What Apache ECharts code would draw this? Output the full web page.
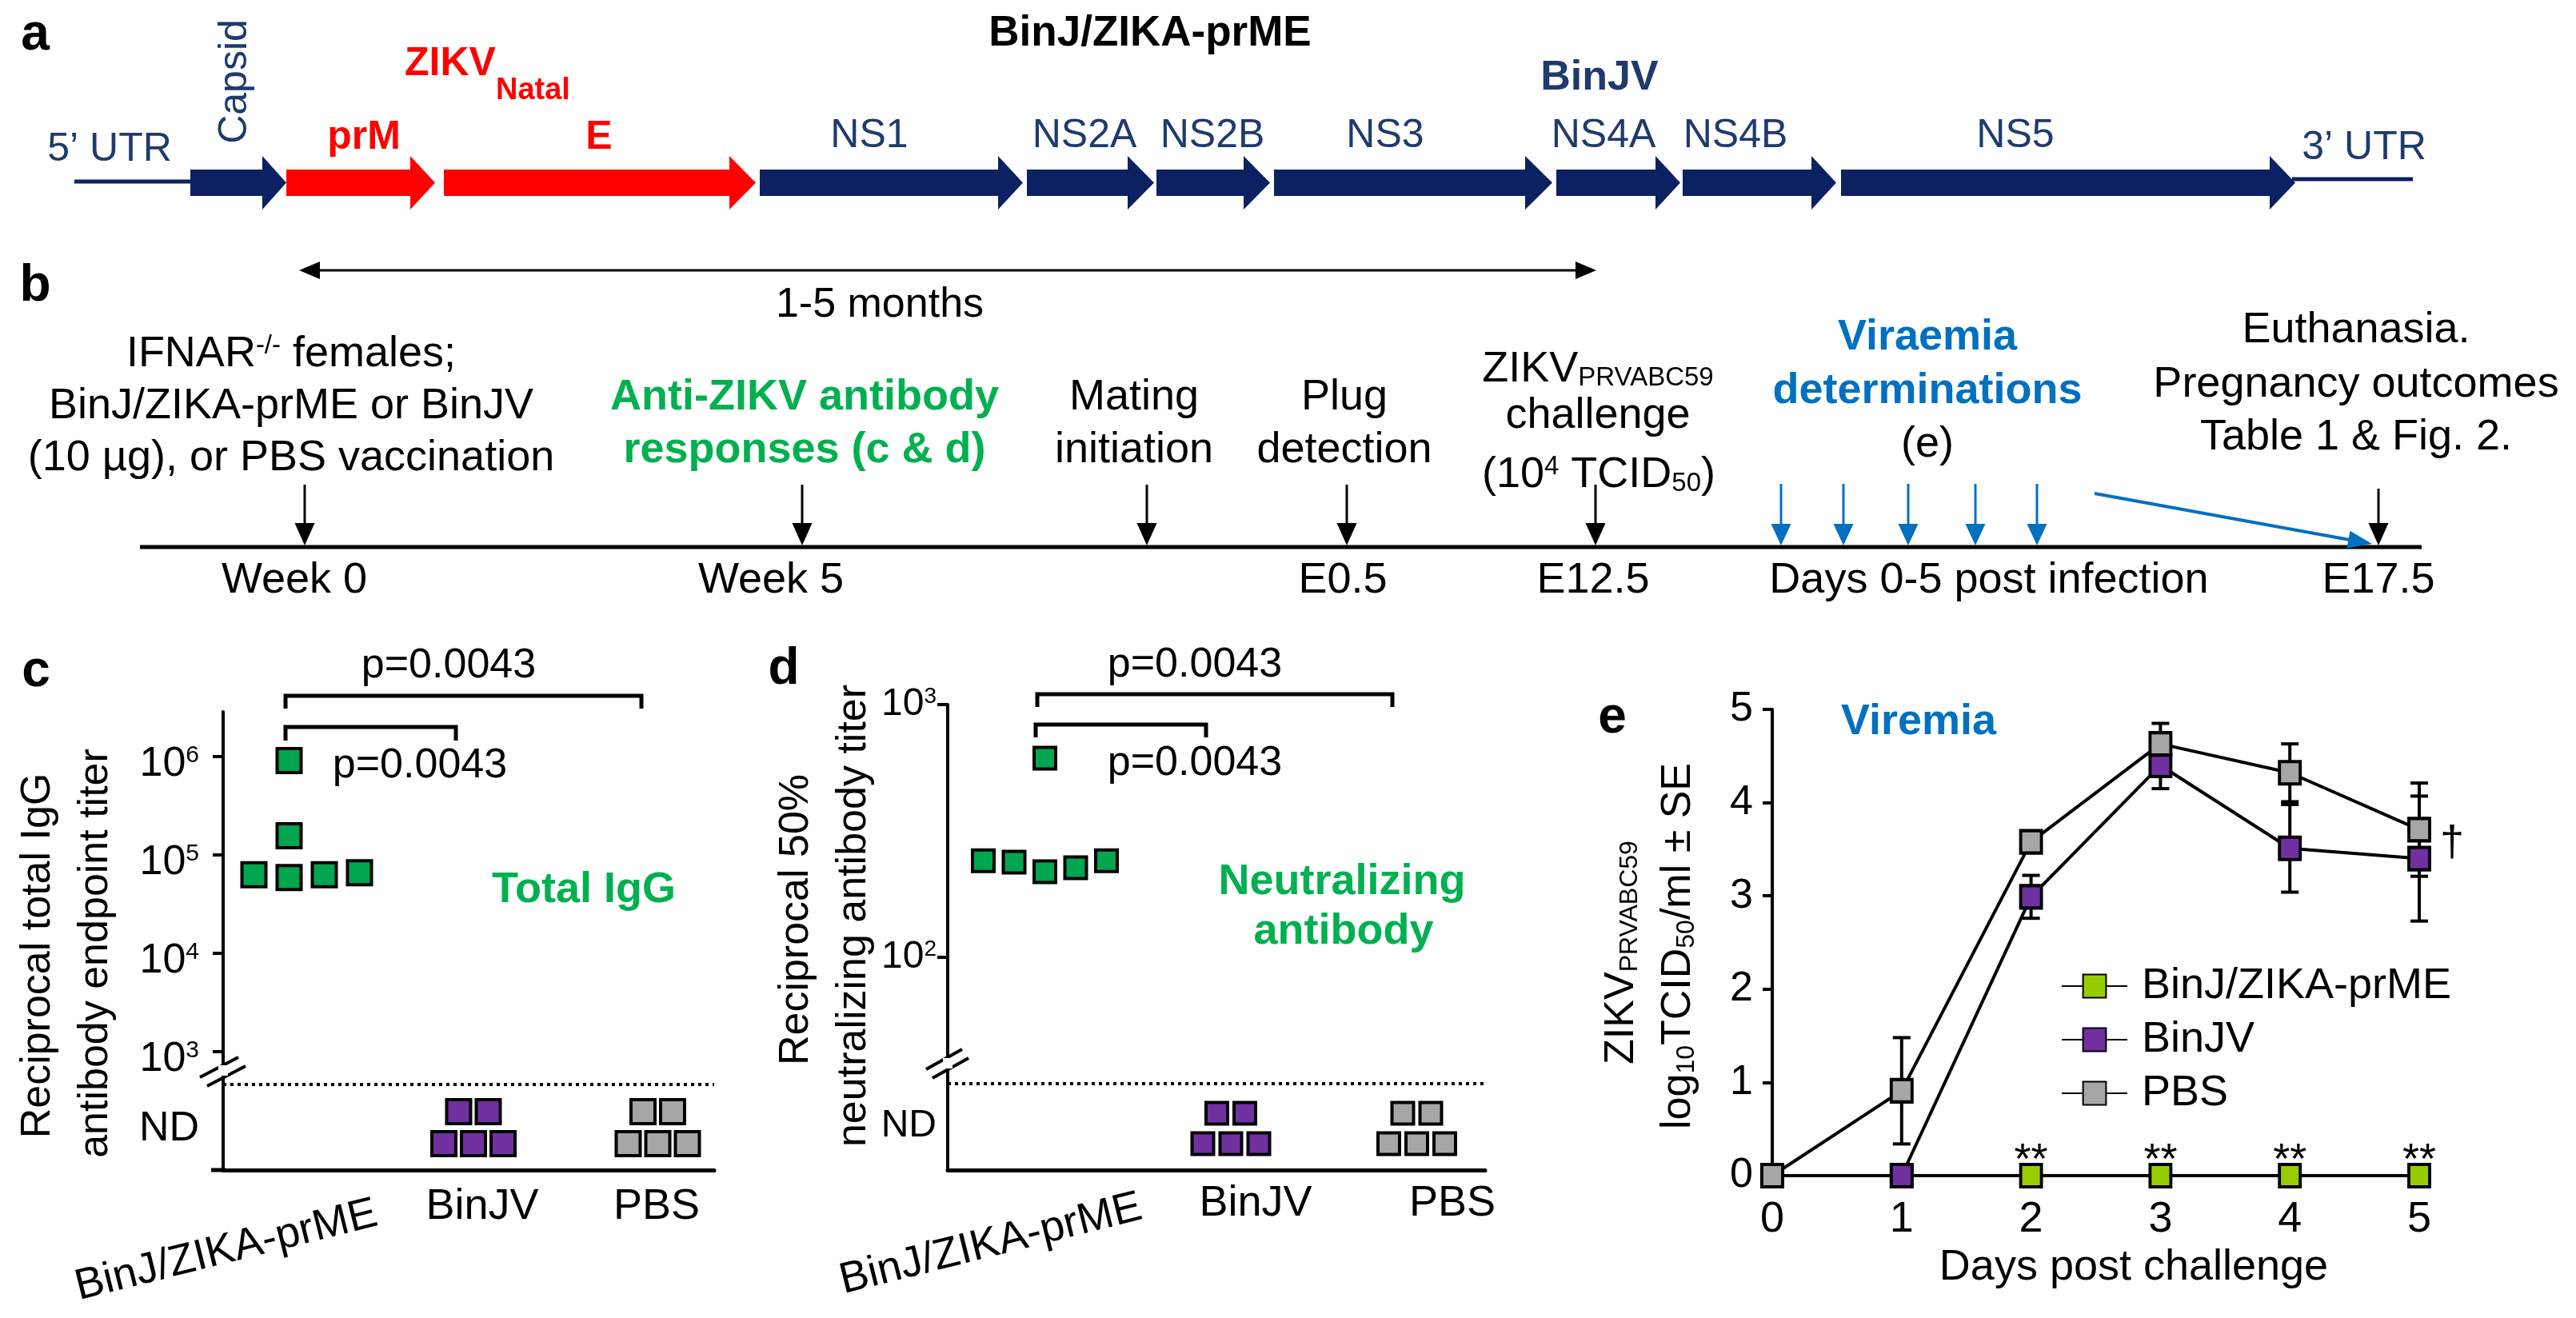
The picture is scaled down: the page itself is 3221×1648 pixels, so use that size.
<!DOCTYPE html>
<html>
<head>
<meta charset="utf-8">
<script src="https://cdn.jsdelivr.net/npm/echarts@6.0.0/dist/echarts.min.js"></script>
<style>
html,body{margin:0;padding:0;background:#fff;overflow:hidden}
#chart{width:3221px;height:1648px}
</style>
</head>
<body>
<div id="chart"></div>
<script>
// ================= DATA =================
const groups = ['BinJ/ZIKA-prME', 'BinJV', 'PBS'];
// panel c: reciprocal total IgG endpoint titre
const iggPrME  = [910000, 157000, 63000, 66000, 63000, 59000];
const iggBinJV = ['ND', 'ND', 'ND', 'ND', 'ND'];
const iggPBS   = ['ND', 'ND', 'ND', 'ND', 'ND'];
const iggTickValues = [1e3, 1e4, 1e5, 1e6];
// panel d: reciprocal 50% neutralising antibody titre
const neutPrME  = [614, 241, 218, 241, 226, 238];
const neutBinJV = ['ND', 'ND', 'ND', 'ND', 'ND'];
const neutPBS   = ['ND', 'ND', 'ND', 'ND', 'ND'];
const neutTickValues = [1e2, 1e3];
const pValueLabels = ['p=0.0043', 'p=0.0043'];
// panel e: viraemia, log10 TCID50/ml +/- SE
const days = [0, 1, 2, 3, 4, 5];
const viremiaPrME  = [0, 0, 0, 0, 0, 0];
const viremiaBinJV = [0, 0, 2.99, 4.40, 3.51, 3.40];
const seBinJV      = [0, 0, 0.23, 0.25, 0.47, 0.67];
const viremiaPBS   = [0, 0.91, 3.58, 4.63, 4.32, 3.71];
const sePBS        = [0, 0.57, 0, 0.22, 0.31, 0.50];
const signifPrME   = ['', '', '**', '**', '**', '**'];
const notePBS      = ['', '', '', '', '', '\u2020'];
// panel a: genome segments
const genomeLabels = ['Capsid', 'prM', 'E', 'NS1', 'NS2A', 'NS2B', 'NS3', 'NS4A', 'NS4B', 'NS5'];

// ================= STYLE / LAYOUT =================
const FONT = '"Liberation Sans", Arial, Helvetica, sans-serif';
const NAVY = '#0B2162', NAVYTXT = '#1F3A6E', RED = '#FF0000', GREENTXT = '#00B050', BLUE = '#0070C0';
const C_PRME = '#00A550', C_BINJV = '#7030A0', C_PBS = '#A6A6A6', C_PRME_E = '#99CC00';

const G = [];
function T(x, y, text, size, o) {
  o = o || {};
  const st = {text: text, x: 0, y: 0, fontSize: size, fontFamily: FONT,
    fontWeight: o.bold ? 'bold' : 'normal', fill: o.color || '#000',
    align: o.align || 'center', verticalAlign: o.va || 'middle'};
  if (o.rich) st.rich = o.rich;
  G.push({type: 'text', x: x, y: y, rotation: o.rot || 0, style: st, z: 100, silent: true});
}
function L(x1, y1, x2, y2, w, c, dash) {
  G.push({type: 'line', shape: {x1, y1, x2, y2}, style: {stroke: c || '#000', lineWidth: w || 3, lineDash: dash || null}, z: 90, silent: true});
}
function P(points, fill) { G.push({type: 'polygon', shape: {points}, style: {fill}, z: 91, silent: true}); }
function PL(points, w, c) { G.push({type: 'polyline', shape: {points}, style: {stroke: c || '#000', lineWidth: w, fill: null}, z: 90, silent: true}); }
function RC(x, y, w, h, fill) { G.push({type: 'rect', shape: {x, y, width: w, height: h}, style: {fill}, z: 95, silent: true}); }
function arrow(x1, y1, x2, y2, w, c, len, wid) {
  const n = Math.hypot(x2 - x1, y2 - y1), ux = (x2 - x1) / n, uy = (y2 - y1) / n;
  L(x1, y1, x2 - ux * (len - 3), y2 - uy * (len - 3), w, c);
  const bx = x2 - ux * len, by = y2 - uy * len;
  P([[x2, y2], [bx - uy * wid / 2, by + ux * wid / 2], [bx + uy * wid / 2, by - ux * wid / 2]], c);
}
function richSet(size, color, bold) {
  const base = {fontSize: size, fontFamily: FONT, fill: color, fontWeight: bold ? 'bold' : 'normal'};
  const ss = Math.round(size * 0.62);
  return {
    n: Object.assign({}, base, {lineHeight: size, verticalAlign: 'top'}),
    sup: Object.assign({}, base, {fontSize: ss, lineHeight: ss, verticalAlign: 'top'}),
    sub: Object.assign({}, base, {fontSize: ss, lineHeight: ss, verticalAlign: 'bottom', padding: [Math.round(size * 0.6), 0, 0, 0]})
  };
}
const RICH54 = richSet(54, '#000', false);
const RICH52 = richSet(52, '#000', false);
const ROT90 = Math.PI / 2;

// ---------- panel a ----------
T(44, 44, 'a', 64, {bold: true});
T(1438, 42, 'BinJ/ZIKA-prME', 53, {bold: true});
const segLayout = [ // x start, head base, tip, colour, label x, label y, style
  [238, 328, 358, NAVY, 294, 102, 'rot'],
  [358, 513, 544, RED, 455, 172, 'red'],
  [555, 912, 945, RED, 749, 172, 'red'],
  [950, 1248, 1279, NAVY, 1087, 170, ''],
  [1284, 1410, 1443, NAVY, 1356, 170, ''],
  [1446, 1555, 1588, NAVY, 1516, 170, ''],
  [1593, 1907, 1941, NAVY, 1732, 170, ''],
  [1946, 2070, 2101, NAVY, 2005, 170, ''],
  [2104, 2265, 2296, NAVY, 2170, 170, ''],
  [2302, 2838, 2870, NAVY, 2520, 170, '']
];
const AY = 228.5, BH = 16.5, HH = 33.5;
L(93, 227, 241, 227, 5, NAVY);
L(2866, 224, 3017, 224, 5, NAVY);
segLayout.forEach((s, i) => {
  P([[s[0], AY - BH], [s[1], AY - BH], [s[1], AY - HH], [s[2], AY], [s[1], AY + HH], [s[1], AY + BH], [s[0], AY + BH]], s[3]);
  if (s[6] === 'rot') T(s[4], s[5], genomeLabels[i], 50, {color: NAVYTXT, rot: ROT90});
  else if (s[6] === 'red') T(s[4], s[5], genomeLabels[i], 50, {color: RED, bold: true});
  else T(s[4], s[5], genomeLabels[i], 50, {color: NAVYTXT});
});
T(137, 187, '5\u2019 UTR', 50, {color: NAVYTXT});
T(2956, 185, '3\u2019 UTR', 50, {color: NAVYTXT});
T(506, 80, 'ZIKV', 50, {bold: true, color: RED, align: 'left'});
T(620, 114, 'Natal', 38, {bold: true, color: RED, align: 'left'});
T(2000, 98, 'BinJV', 52, {bold: true, color: NAVYTXT});

// ---------- panel b ----------
T(44, 358, 'b', 64, {bold: true});
L(396, 338, 1974, 338, 3);
P([[374, 338], [400, 327], [400, 349]], '#000');
P([[1996, 338], [1970, 327], [1970, 349]], '#000');
T(1100, 382, '1-5 months', 52);
T(364, 443, '{n|IFNAR}{sup|-/-}{n| females;}', 54, {rich: RICH54});
T(364, 508, 'BinJ/ZIKA-prME or BinJV', 54);
T(364, 573, '(10 \u00b5g), or PBS vaccination', 54);
T(1006, 497, 'Anti-ZIKV antibody', 54, {bold: true, color: GREENTXT});
T(1006, 563, 'responses (c & d)', 54, {bold: true, color: GREENTXT});
T(1418, 497, 'Mating', 54);
T(1418, 563, 'initiation', 54);
T(1681, 497, 'Plug', 54);
T(1681, 563, 'detection', 54);
T(1998, 462, '{n|ZIKV}{sub|PRVABC59}', 54, {rich: RICH54});
T(1998, 520, 'challenge', 54);
T(1999, 594, '{n|(10}{sup|4}{n| TCID}{sub|50}{n|)}', 54, {rich: RICH54});
T(2410, 422, 'Viraemia', 54, {bold: true, color: BLUE});
T(2410, 489, 'determinations', 54, {bold: true, color: BLUE});
T(2410, 556, '(e)', 54);
T(2946, 413, 'Euthanasia.', 54);
T(2946, 481, 'Pregnancy outcomes', 54);
T(2946, 547, 'Table 1 & Fig. 2.', 54);
L(175, 684, 3028, 684, 5);
[381, 1003, 1434, 1684, 1995].forEach(x => arrow(x, 606, x, 682, 3, '#000', 28, 25));
arrow(2974, 611, 2974, 682, 3, '#000', 28, 25);
[2227, 2305, 2386, 2470, 2547].forEach(x => arrow(x, 605, x, 682, 3, BLUE, 27, 25));
arrow(2619, 617, 2966, 680, 4, BLUE, 30, 22);
T(368, 726, 'Week 0', 54);
T(964, 726, 'Week 5', 54);
T(1679, 726, 'E0.5', 54);
T(1992, 726, 'E12.5', 54);
T(2487, 726, 'Days 0-5 post infection', 54);
T(2974, 726, 'E17.5', 54);

// ---------- panels c / d layout ----------
function prep(p) {
  p.pxPerY = (p.y2 - p.y1) / (p.v1 - p.v2);
  p.yVal = py => p.v1 + (p.y1 - py) / p.pxPerY;
  p.xVal = px => (px - p.g0) / p.spacing;
  p.ymin = p.yVal(p.bottom); p.ymax = p.yVal(p.top);
  p.xmin = p.xVal(p.left); p.xmax = p.xVal(p.right);
  p.ndVal = p.yVal(p.ndY); p.ndLabel = p.yVal(p.ndLabelY); p.limVal = p.yVal(p.limY);
  p.symPx = p.sym + 4;
  return p;
}
const PC = prep({left: 279, right: 893, top: 890, bottom: 1463, v1: 6, y1: 946, v2: 3, y2: 1315,
  g0: 361.5, spacing: 230.5, ndY: 1410, ndLabelY: 1402, limY: 1356, sym: 30, pitch: 44, ndPitch: 37, rowPitch: 40});
const PD = prep({left: 1185, right: 1857, top: 881, bottom: 1463, v1: 3, y1: 881, v2: 2, y2: 1197,
  g0: 1306.5, spacing: 232.5, ndY: 1411, ndLabelY: 1408, limY: 1356, sym: 27, pitch: 38.5, ndPitch: 35, rowPitch: 38});

function swarmPoints(values, gi, p) {
  const pts = [];
  const det = values.filter(v => v !== 'ND').map(v => Math.log10(v)).sort((a, b) => a - b);
  const order = [0, 1, -1, 2, -2, 3, -3, 4, -4];
  const placed = [];
  det.forEach(ly => {
    for (const k of order) {
      if (!placed.some(q => q.k === k && Math.abs(q.ly - ly) * p.pxPerY < p.symPx)) { placed.push({k, ly}); break; }
    }
  });
  placed.forEach(q => pts.push([gi + q.k * p.pitch / p.spacing, q.ly]));
  const nND = values.length - det.length;
  if (nND) {
    const rows = []; let left = nND, r = 0;
    while (left > 0) { const n = Math.min(r % 2 === 0 ? 3 : 2, left); rows.push(n); left -= n; r++; }
    rows.forEach((n, ri) => {
      const dy = (ri - (rows.length - 1) / 2) * p.rowPitch / p.pxPerY;
      for (let i = 0; i < n; i++) pts.push([gi + (i - (n - 1) / 2) * p.ndPitch / p.spacing, p.ndVal + dy]);
    });
  }
  return pts;
}
function scatterSeries(name, values, gi, p, color, axisIdx, withLimit) {
  const s = {name: name, type: 'scatter', xAxisIndex: axisIdx, yAxisIndex: axisIdx,
    data: swarmPoints(values, gi, p), symbol: 'rect', symbolSize: p.sym,
    itemStyle: {color: color, borderColor: '#000', borderWidth: 4, opacity: 1}, z: 5, silent: true};
  if (withLimit) s.markLine = {silent: true, symbol: ['none', 'none'], label: {show: false},
    lineStyle: {color: '#000', type: [4, 5], width: 4}, data: [{yAxis: p.limVal}], animation: false};
  return s;
}
function logAxis(p, ticks, gridIndex, margin, pad, fs) {
  const tv = ticks.map(v => Math.log10(v));
  return {gridIndex: gridIndex, type: 'value', min: p.ymin, max: p.ymax,
    axisLine: {show: true, onZero: false, lineStyle: {color: '#000', width: 4}},
    axisTick: {show: true, customValues: tv, length: 13, lineStyle: {color: '#000', width: 4}},
    axisLabel: {show: true, customValues: [p.ndLabel].concat(tv), margin: margin, padding: pad,
      formatter: v => v < tv[0] - 0.2 ? '{nd|ND}' : '{b|10}{s|' + Math.round(v) + '}',
      rich: {b: {fontSize: fs, fontFamily: FONT, color: '#000', verticalAlign: 'top', lineHeight: fs},
             s: {fontSize: Math.round(fs * 0.58), fontFamily: FONT, color: '#000', verticalAlign: 'top', lineHeight: Math.round(fs * 0.58)},
             nd: {fontSize: fs, fontFamily: FONT, color: '#000', lineHeight: fs}}},
    splitLine: {show: false}};
}
function catXAxis(p, gridIndex) {
  return {gridIndex: gridIndex, type: 'value', min: p.xmin, max: p.xmax,
    axisLine: {show: true, onZero: false, lineStyle: {color: '#000', width: 5}},
    axisTick: {show: false}, axisLabel: {show: false}, splitLine: {show: false}};
}

// ---------- panel c annotations ----------
T(45, 840, 'c', 64, {bold: true});
T(561, 833, pValueLabels[0], 52);
PL([[357, 886], [357, 870], [802, 870], [802, 886]], 5);
PL([[357, 926], [357, 909], [570, 909], [570, 926]], 5);
T(525, 958, pValueLabels[1], 52);
T(48, 1195, 'Reciprocal total IgG', 52, {rot: ROT90});
T(120, 1192, 'antibody endpoint titer', 52, {rot: ROT90});
T(730, 1113, 'Total IgG', 54, {bold: true, color: GREENTXT});
T(283, 1564, groups[0], 54, {rot: 14 * Math.PI / 180});
T(603, 1509, groups[1], 54);
T(821, 1509, groups[2], 54);
L(264, 1463, 282, 1463, 5);
RC(273, 1332, 12, 13, '#fff');
L(250, 1347, 298, 1322, 4);
L(259, 1358, 307, 1333, 4);

// ---------- panel d annotations ----------
T(980, 837, 'd', 64, {bold: true});
T(1494, 832, pValueLabels[0], 52);
PL([[1297, 884], [1297, 868], [1741, 868], [1741, 884]], 5);
PL([[1295, 922], [1295, 906], [1508, 906], [1508, 922]], 5);
T(1494, 955, pValueLabels[1], 52);
T(996, 1150, 'Reciprocal 50%', 52, {rot: ROT90});
T(1068, 1145, 'neutralizing antibody titer', 52, {rot: ROT90});
T(1678, 1103, 'Neutralizing', 54, {bold: true, color: GREENTXT});
T(1680, 1165, 'antibody', 54, {bold: true, color: GREENTXT});
T(1239, 1556, groups[0], 54, {rot: 14 * Math.PI / 180});
T(1570, 1505, groups[1], 54);
T(1816, 1505, groups[2], 54);
RC(1179, 1323, 12, 13, '#fff');
L(1158, 1337, 1203, 1312, 4);
L(1166, 1348, 1211, 1323, 4);

// ---------- panel e annotations ----------
T(2016, 898, 'e', 64, {bold: true});
T(2399, 903, 'Viremia', 54, {bold: true, color: BLUE});
T(2028, 1191, '{n|ZIKV}{sub|PRVABC59}', 52, {rot: ROT90, rich: RICH52});
T(2099, 1183, '{n|log}{sub|10}{n|TCID}{sub|50}{n|/ml \u00b1 SE}', 52, {rot: ROT90, rich: RICH52});
T(2668, 1585, 'Days post challenge', 54);

const errData = [];
days.forEach((d, i) => {
  if (seBinJV[i] > 0) errData.push([d, viremiaBinJV[i] - seBinJV[i], viremiaBinJV[i] + seBinJV[i]]);
  if (sePBS[i] > 0) errData.push([d, viremiaPBS[i] - sePBS[i], viremiaPBS[i] + sePBS[i]]);
});
function lineSeries(name, vals, color, z, extra) {
  return Object.assign({name: name, type: 'line', xAxisIndex: 2, yAxisIndex: 2,
    data: days.map((d, i) => [d, vals[i]]), symbol: 'rect', symbolSize: [26, 28], showSymbol: true,
    itemStyle: {color: color, borderColor: '#000', borderWidth: 4}, lineStyle: {color: '#000', width: 4},
    z: z, clip: false, silent: true, animation: false}, extra || {});
}

const option = {
  animation: false,
  backgroundColor: '#ffffff',
  textStyle: {fontFamily: FONT},
  grid: [
    {left: PC.left, top: PC.top, width: PC.right - PC.left, height: PC.bottom - PC.top, containLabel: false, outerBoundsMode: 'none'},
    {left: PD.left, top: PD.top, width: PD.right - PD.left, height: PD.bottom - PD.top, containLabel: false, outerBoundsMode: 'none'},
    {left: 2216, top: 887, width: 809, height: 583, containLabel: false, outerBoundsMode: 'none'}
  ],
  xAxis: [
    catXAxis(PC, 0),
    catXAxis(PD, 1),
    {gridIndex: 2, type: 'value', min: 0, max: 5, interval: 1,
      axisLine: {show: false}, axisTick: {show: false}, splitLine: {show: false},
      axisLabel: {show: true, fontSize: 54, fontFamily: FONT, color: '#000', margin: 28}}
  ],
  yAxis: [
    logAxis(PC, iggTickValues, 0, 30, [20, 0, 0, 0], 52),
    logAxis(PD, neutTickValues, 1, 14, 0, 48),
    {gridIndex: 2, type: 'value', min: 0, max: 5, interval: 1,
      axisLine: {show: true, onZero: false, lineStyle: {color: '#000', width: 4}},
      axisTick: {show: true, length: 12, lineStyle: {color: '#000', width: 4}},
      axisLabel: {show: true, fontSize: 52, fontFamily: FONT, color: '#000', margin: 24, padding: [20, 0, 0, 0]},
      splitLine: {show: false}}
  ],
  legend: {show: true, orient: 'vertical', left: 2577, top: 1206, itemWidth: 82, itemHeight: 36, itemGap: 13,
    padding: 0, selectedMode: false, data: ['BinJ/ZIKA-prME', 'BinJV', 'PBS'],
    textStyle: {fontSize: 54, fontFamily: FONT, color: '#000', lineHeight: 54, padding: [0, 0, 0, 13]}},
  series: [
    scatterSeries('c ' + groups[0], iggPrME, 0, PC, C_PRME, 0, true),
    scatterSeries('c ' + groups[1], iggBinJV, 1, PC, C_BINJV, 0, false),
    scatterSeries('c ' + groups[2], iggPBS, 2, PC, C_PBS, 0, false),
    scatterSeries('d ' + groups[0], neutPrME, 0, PD, C_PRME, 1, true),
    scatterSeries('d ' + groups[1], neutBinJV, 1, PD, C_BINJV, 1, false),
    scatterSeries('d ' + groups[2], neutPBS, 2, PD, C_PBS, 1, false),
    {type: 'custom', name: 'SE', xAxisIndex: 2, yAxisIndex: 2, data: errData, z: 1, clip: false, silent: true,
      renderItem: function (params, api) {
        const x = api.value(0), lo = api.coord([x, api.value(1)]), hi = api.coord([x, api.value(2)]);
        const cap = 11, st = {stroke: '#000', lineWidth: 4};
        return {type: 'group', children: [
          {type: 'line', shape: {x1: lo[0], y1: lo[1], x2: hi[0], y2: hi[1]}, style: st},
          {type: 'line', shape: {x1: lo[0] - cap, y1: lo[1], x2: lo[0] + cap, y2: lo[1]}, style: st},
          {type: 'line', shape: {x1: hi[0] - cap, y1: hi[1], x2: hi[0] + cap, y2: hi[1]}, style: st}
        ]};
      }},
    lineSeries('BinJ/ZIKA-prME', viremiaPrME, C_PRME_E, 3, {
      label: {show: true, position: 'inside', offset: [0, -18], formatter: p => signifPrME[p.dataIndex],
        fontSize: 54, fontFamily: FONT, color: '#000'}}),
    lineSeries('BinJV', viremiaBinJV, C_BINJV, 4),
    lineSeries('PBS', viremiaPBS, C_PBS, 5, {
      label: {show: true, position: 'right', distance: 11, offset: [0, 18], formatter: p => notePBS[p.dataIndex],
        fontSize: 54, fontFamily: FONT, color: '#000'}})
  ],
  graphic: {elements: G}
};
const chart = echarts.init(document.getElementById('chart'), null, {renderer: 'canvas', width: 3221, height: 1648});
chart.setOption(option);
</script>
</body>
</html>
